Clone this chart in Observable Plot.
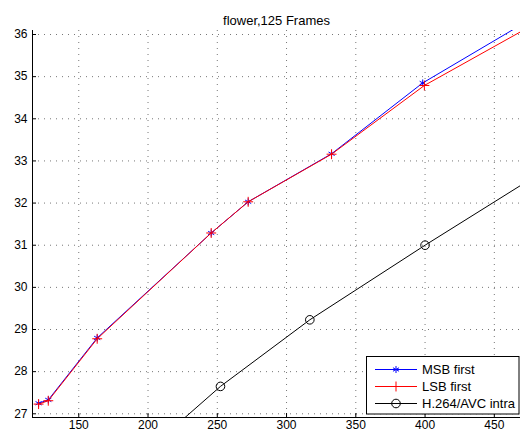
<!DOCTYPE html>
<html><head><meta charset="utf-8">
<script src="https://cdn.jsdelivr.net/npm/d3@7"></script>
<script src="https://cdn.jsdelivr.net/npm/@observablehq/plot@0.6"></script>
<style>
body{margin:0;background:#fff;}
#chart{position:relative;width:520px;height:433px;font-family:"Liberation Sans",Arial,sans-serif;}
</style>
</head><body><div id="chart"></div>
<script>
const title = "flower,125 Frames";
const seriesNames = ["MSB first", "LSB first", "H.264/AVC intra"];
const seriesColors = ["#0000ff", "#ff0000", "#000000"];
const seriesSymbols = ["asterisk", "plus", "circle"];
const msbX = [121, 128, 163.3, 245.6, 272.3, 332.5, 398.3, 490];
const msbY = [27.25, 27.33, 28.80, 31.29, 32.03, 33.17, 34.85, 36.63];
const lsbX = [121, 128, 163.3, 245.6, 272.3, 332.5, 399.5, 490];
const lsbY = [27.23, 27.31, 28.78, 31.29, 32.03, 33.16, 34.79, 36.45];
const h264X = [210, 252.3, 316.8, 400, 490];
const h264Y = [26.43, 27.65, 29.23, 31.0, 32.85];
const xTicks = [150, 200, 250, 300, 350, 400, 450];
const yTicks = [27, 28, 29, 30, 31, 32, 33, 34, 35, 36];
const xDomain = [116.6, 468.9];
const yDomain = [26.912, 36.095];

const W = 520, H = 433, mL = 32, mR = 0, mT = 30, mB = 16;
const frameW = W - mL - mR, frameH = H - mT - mB;

const toRows = (xs, ys) => xs.map((x, i) => ({x, y: ys[i]}));
const msb = toRows(msbX, msbY);
const lsb = toRows(lsbX, lsbY);
const h264 = toRows(h264X, h264Y);

const grid = {stroke: "#777", strokeWidth: 1, strokeDasharray: "1,5"};

const plot = Plot.plot({
  width: W, height: H,
  marginLeft: mL, marginRight: mR, marginTop: mT, marginBottom: mB,
  style: {fontFamily: "'Liberation Sans', Arial, sans-serif", fontSize: "12px", background: "#fff", overflow: "visible"},
  x: {domain: xDomain},
  y: {domain: yDomain},
  marks: [
    Plot.ruleX(xTicks, grid),
    Plot.ruleY(yTicks, grid),
    Plot.tickX(xTicks, {x: d => d, insetTop: frameH - 4, stroke: "#000"}),
    Plot.tickY(yTicks, {y: d => d, insetRight: frameW - 4, stroke: "#000"}),
    Plot.axisX({ticks: xTicks, tickSize: 0, tickPadding: 3, fontSize: 12, fill: "#000", label: null}),
    Plot.axisY({ticks: yTicks, tickSize: 0, tickPadding: 5, fontSize: 12, fill: "#000", label: null}),
    Plot.line(msb, {x: "x", y: "y", stroke: seriesColors[0], strokeWidth: 1, clip: true}),
    Plot.dot(msb, {x: "x", y: "y", symbol: seriesSymbols[0], stroke: seriesColors[0], r: 3.3, strokeWidth: 1, clip: true}),
    Plot.line(lsb, {x: "x", y: "y", stroke: seriesColors[1], strokeWidth: 1, clip: true}),
    Plot.dot(lsb, {x: "x", y: "y", symbol: seriesSymbols[1], stroke: seriesColors[1], r: 3.3, strokeWidth: 1, clip: true}),
    Plot.line(h264, {x: "x", y: "y", stroke: seriesColors[2], strokeWidth: 1, clip: true}),
    Plot.dot(h264, {x: "x", y: "y", symbol: seriesSymbols[2], stroke: seriesColors[2], fill: "none", r: 4.3, strokeWidth: 1, clip: true}),
    Plot.ruleX([xDomain[0]], {stroke: "#000", strokeWidth: 1}),
    Plot.ruleY([yDomain[0]], {stroke: "#000", strokeWidth: 1}),
    Plot.text([title], {frameAnchor: "top", dy: -15, fontSize: 13, fill: "#000"})
  ]
});

// Legend drawn into the plot's SVG
const svg = d3.select(plot);
const lg = svg.append("g").attr("font-family", "'Liberation Sans', Arial, sans-serif")
  .attr("font-size", 13).attr("text-anchor", "start");
lg.append("rect").attr("x", 366.5).attr("y", 356.5).attr("width", 152.5).attr("height", 57.5)
  .attr("fill", "#fff").attr("stroke", "#000").attr("stroke-width", 1);
const symRadius = [3.3, 3.3, 4.3];
const symMap = {asterisk: d3.symbolAsterisk, plus: d3.symbolPlus, circle: d3.symbolCircle};
seriesNames.forEach((name, i) => {
  const cy = 369.5 + i * 17;
  lg.append("line").attr("x1", 375).attr("x2", 417).attr("y1", cy).attr("y2", cy)
    .attr("stroke", seriesColors[i]).attr("stroke-width", 1);
  const r = symRadius[i];
  lg.append("path").attr("transform", `translate(396,${cy})`)
    .attr("d", d3.symbol().type(symMap[seriesSymbols[i]]).size(r * r * Math.PI)())
    .attr("fill", "none").attr("stroke", seriesColors[i]);
  lg.append("text").attr("x", 422).attr("y", cy).attr("dy", "0.35em").attr("fill", "#000").text(name);
});

document.getElementById("chart").appendChild(plot);
</script>
</body></html>
